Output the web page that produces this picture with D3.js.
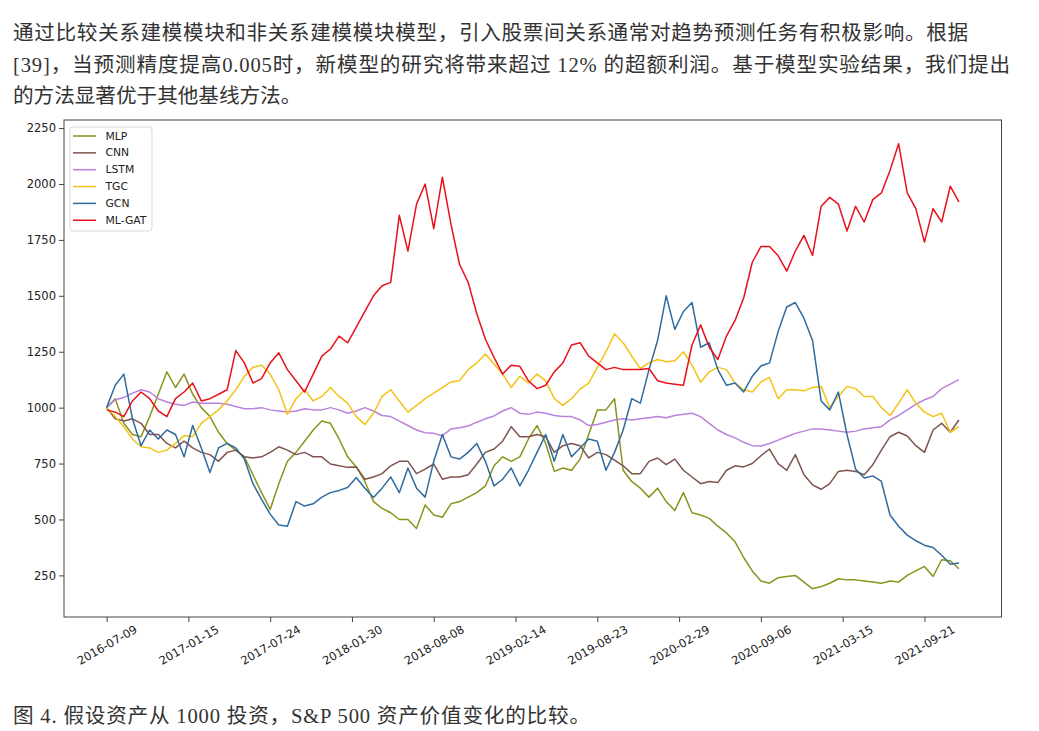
<!DOCTYPE html>
<html>
<head>
<meta charset="utf-8">
<script src="https://cdn.jsdelivr.net/npm/d3@7"></script>
<style>
  html, body { margin: 0; padding: 0; background: #fff; }
  svg { display: block; }
  .para { font-family: "Liberation Serif", "Noto Sans CJK SC", serif; font-size: 20.6px; fill: #333; }
  .tick text { font-family: "DejaVu Sans", sans-serif; font-size: 11.5px; fill: #222; }
  .legend text { font-family: "DejaVu Sans", sans-serif; font-size: 10.8px; fill: #222; }
</style>
</head>
<body>
<svg id="page" width="1039" height="731"></svg>
<script>
// series values, one point every 20 days from 2016-07-09
const startDate = new Date(2016, 6, 9);
const stepDays = 20;

const seriesNames = ["MLP", "CNN", "LSTM", "TGC", "GCN", "ML-GAT"];
const seriesColors = ["#8a931c", "#7e544d", "#b982dd", "#f3c318", "#2f6b9e", "#e8111b"];

const mlp = [1000, 1040, 930, 880, 870, 960, 1060, 1160, 1090, 1150, 1060, 1000, 960, 890, 840, 810, 780, 700, 620, 545,
  660, 760, 800, 850, 900, 940, 930, 860, 780, 735, 670, 580, 550, 530, 500, 500, 460, 565, 520, 510,
  570, 580, 600, 620, 650, 740, 780, 760, 780, 860, 920, 840, 715, 730, 720, 770, 880, 990, 990, 1040,
  720, 670, 640, 600, 640, 580, 540, 620, 530, 520, 505, 470, 440, 400, 330, 270, 225, 215, 240, 245,
  250, 220, 190, 200, 215, 235, 230, 230, 225, 220, 215, 225, 220, 250, 270, 290, 245, 320, 315, 280];

const cnn = [1000, 950, 940, 950, 930, 880, 880, 840, 820, 850, 820, 800, 790, 760, 800, 810, 780, 775, 780, 800,
  825, 810, 790, 800, 780, 780, 748, 740, 733, 735, 680, 690, 705, 740, 760, 760, 705, 725, 748, 680,
  690, 690, 700, 748, 800, 815, 850, 915, 870, 870, 880, 870, 800, 830, 840, 830, 775, 800, 790, 765,
  740, 705, 705, 760, 775, 745, 770, 720, 690, 660, 670, 665, 720, 740, 735, 750, 785, 815, 750, 720,
  790, 700, 655, 635, 660, 715, 720, 715, 700, 745, 810, 870, 890, 873, 830, 800, 900, 930, 890, 945];

const lstm = [1000, 1035, 1045, 1065, 1080, 1070, 1040, 1025, 1015, 1010, 1025, 1020, 1020, 1020, 1015, 1005, 995, 995, 1000, 990,
  985, 980, 985, 995, 990, 990, 1000, 990, 975, 985, 1000, 985, 965, 960, 940, 920, 900, 888, 885, 874,
  905, 910, 918, 935, 950, 963, 985, 1000, 975, 970, 980, 975, 965, 960, 960, 945, 920, 925, 935, 945,
  950, 945, 950, 955, 960, 955, 965, 970, 975, 960, 930, 900, 880, 865, 845, 830, 828, 840, 855, 870,
  885, 895, 905, 905, 900, 895, 890, 895, 905, 910, 915, 945, 965, 990, 1015, 1035, 1050, 1085, 1105, 1125];

const tgc = [1000, 960, 915, 860, 825, 820, 800, 810, 840, 875, 870, 930, 960, 990, 1030, 1080, 1140, 1180, 1190, 1150,
  1080, 970, 1040, 1080, 1030, 1050, 1090, 1050, 1020, 960, 925, 975, 1050, 1080, 1030, 980, 1010, 1040, 1065, 1090,
  1115, 1120, 1170, 1200, 1240, 1195, 1150, 1090, 1140, 1110, 1150, 1120, 1040, 1010, 1040, 1083, 1110, 1180, 1250, 1330,
  1290, 1230, 1175, 1200, 1215, 1205, 1210, 1250, 1190, 1114, 1160, 1180, 1170, 1110, 1080, 1070, 1115, 1135, 1040, 1080,
  1080, 1075, 1090, 1095, 1000, 1050, 1095, 1085, 1050, 1050, 1000, 965, 1020, 1080, 1020, 980, 960, 975, 890, 915];

const gcn = [1000, 1100, 1150, 950, 830, 900, 860, 900, 880, 780, 920, 820, 710, 820, 840, 820, 770, 660, 590, 524,
  475, 470, 580, 560, 570, 600, 620, 630, 643, 688, 640, 598, 640, 690, 620, 730, 640, 600, 760, 880,
  780, 770, 800, 840, 760, 650, 680, 730, 650, 720, 800, 880, 760, 880, 780, 820, 860, 850, 720, 800,
  900, 1040, 1020, 1170, 1300, 1500, 1350, 1430, 1470, 1270, 1290, 1170, 1100, 1110, 1070, 1140, 1186, 1200, 1340, 1450,
  1470, 1400, 1300, 1030, 990, 1070, 880, 725, 685, 695, 670, 520, 470, 430, 405, 385, 375, 340, 300, 305];

const mlgat = [990, 980, 960, 1030, 1070, 1040, 985, 960, 1040, 1070, 1110, 1030, 1040, 1060, 1080, 1255, 1200, 1110, 1130, 1200,
  1245, 1170, 1120, 1070, 1150, 1230, 1262, 1320, 1290, 1360, 1430, 1500, 1545, 1560, 1860, 1700, 1910, 2000, 1800, 2030,
  1820, 1640, 1560, 1420, 1306, 1225, 1150, 1190, 1185, 1120, 1085, 1100, 1160, 1200, 1280, 1290, 1230, 1200, 1170, 1180,
  1170, 1170, 1170, 1175, 1120, 1110, 1105, 1100, 1280, 1370, 1270, 1215, 1320, 1390, 1490, 1650, 1720, 1720, 1680, 1610,
  1700, 1770, 1680, 1900, 1940, 1910, 1790, 1900, 1830, 1930, 1960, 2060, 2180, 1960, 1890, 1740, 1890, 1830, 1990, 1920];

const seriesValues = [mlp, cnn, lstm, tgc, gcn, mlgat];

const xTickLabels = ["2016-07-09", "2017-01-15", "2017-07-24", "2018-01-30", "2018-08-08", "2019-02-14",
  "2019-08-23", "2020-02-29", "2020-09-06", "2021-03-15", "2021-09-21"];
const yTickValues = [250, 500, 750, 1000, 1250, 1500, 1750, 2000, 2250];

const paraLines = [
  "通过比较关系建模模块和非关系建模模块模型，引入股票间关系通常对趋势预测任务有积极影响。根据",
  "[39]，当预测精度提高0.005时，新模型的研究将带来超过 12% 的超额利润。基于模型实验结果，我们提出",
  "的方法显著优于其他基线方法。"
];
const caption = "图 4. 假设资产从 1000 投资，S&P 500 资产价值变化的比较。";

const svg = d3.select("#page");

// paragraph above the figure
const lineWidths = [955, 997, null];
paraLines.forEach((t, i) => {
  const el = svg.append("text")
    .attr("class", "para")
    .attr("x", 13)
    .attr("y", 40 + i * 31.5)
    .text(t);
  if (lineWidths[i]) el.attr("textLength", lineWidths[i]).attr("lengthAdjust", "spacing");
});

svg.append("text")
  .attr("class", "para")
  .attr("x", 13)
  .attr("y", 723)
  .attr("textLength", 577)
  .attr("lengthAdjust", "spacing")
  .text(caption);

// chart
const plot = { left: 64, right: 1001.5, top: 120, bottom: 617 };
const dates = mlp.map((d, i) => d3.timeDay.offset(startDate, i * stepDays));
const pad = 99;

const x = d3.scaleTime()
  .domain([d3.timeDay.offset(dates[0], -pad), d3.timeDay.offset(dates[dates.length - 1], pad)])
  .range([plot.left, plot.right]);

const y = d3.scaleLinear()
  .domain([64, 2286])
  .range([plot.bottom, plot.top]);

const parseDate = d3.timeParse("%Y-%m-%d");

// x axis
const xAxis = svg.append("g")
  .attr("transform", `translate(0,${plot.bottom})`)
  .call(d3.axisBottom(x)
    .tickValues(xTickLabels.map(parseDate))
    .tickFormat(d3.timeFormat("%Y-%m-%d"))
    .tickSizeOuter(0)
    .tickSize(5));
xAxis.select(".domain").remove();
xAxis.selectAll(".tick line").attr("stroke", "#444");
xAxis.selectAll(".tick text")
  .attr("y", 0)
  .attr("dy", 0)
  .attr("text-anchor", "middle")
  .attr("dominant-baseline", "central")
  .attr("transform", "translate(0,28) rotate(-30)");

// y axis
const yAxis = svg.append("g")
  .attr("transform", `translate(${plot.left},0)`)
  .call(d3.axisLeft(y).tickValues(yTickValues).tickFormat(d3.format("d")).tickSize(5).tickSizeOuter(0));
yAxis.select(".domain").remove();
yAxis.selectAll(".tick line").attr("stroke", "#444");
yAxis.selectAll(".tick text").attr("x", -8);

// lines
const line = d3.line()
  .x((d, i) => x(dates[i]))
  .y(d => y(d));

svg.append("g")
  .selectAll("path")
  .data(seriesValues)
  .enter().append("path")
  .attr("d", line)
  .attr("fill", "none")
  .attr("stroke", (d, i) => seriesColors[i])
  .attr("stroke-width", 1.5)
  .attr("stroke-linejoin", "round");

// frame
svg.append("rect")
  .attr("x", plot.left)
  .attr("y", plot.top)
  .attr("width", plot.right - plot.left)
  .attr("height", plot.bottom - plot.top)
  .attr("fill", "none")
  .attr("stroke", "#444")
  .attr("stroke-width", 1);

// legend
const legend = svg.append("g").attr("class", "legend");
legend.append("rect")
  .attr("x", 70)
  .attr("y", 127)
  .attr("width", 82)
  .attr("height", 104)
  .attr("rx", 3)
  .attr("fill", "#fff")
  .attr("fill-opacity", 0.8)
  .attr("stroke", "#d8d8d8");

seriesNames.forEach((name, i) => {
  const yy = 136 + i * 16.85;
  legend.append("line")
    .attr("x1", 73).attr("x2", 96)
    .attr("y1", yy).attr("y2", yy)
    .attr("stroke", seriesColors[i])
    .attr("stroke-width", 1.5);
  legend.append("text")
    .attr("x", 105.5)
    .attr("y", yy)
    .attr("dominant-baseline", "central")
    .text(name);
});
</script>
</body>
</html>
